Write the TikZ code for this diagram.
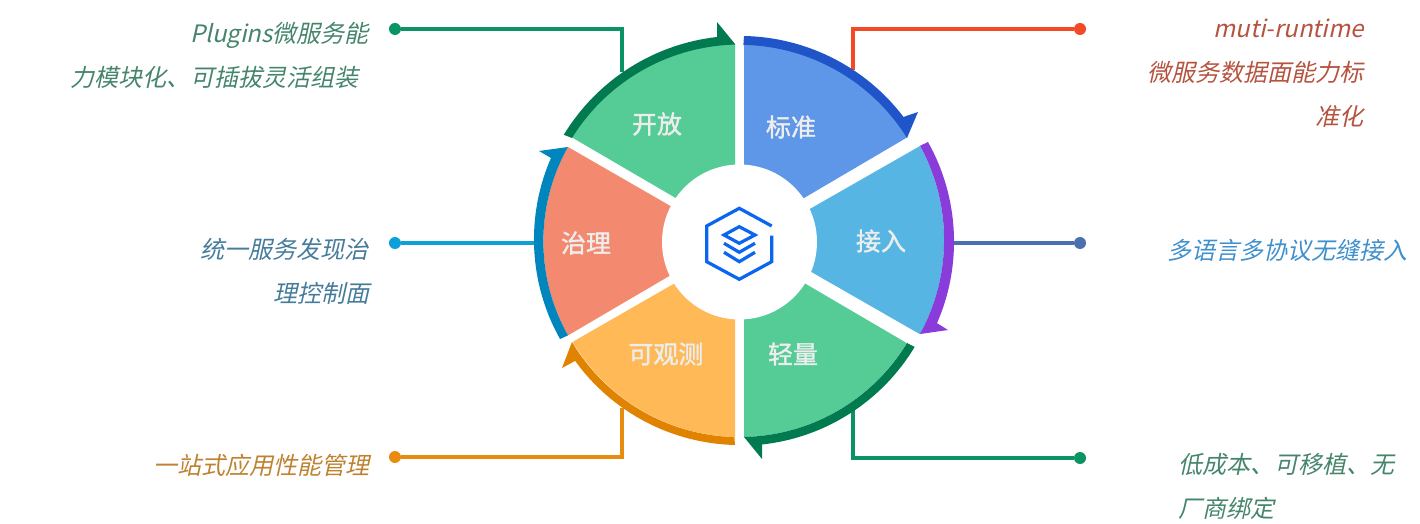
\documentclass[tikz,border=0pt]{standalone}
\usepackage{xcolor}
\usepackage{fontspec}
\usepackage{tikz}
\usetikzlibrary{positioning}
\newfontfamily\notefont[FakeSlant=0.22]{Noto Sans CJK SC}
\newfontfamily\sectorfont[FakeBold=1.5]{Noto Sans CJK SC}
\definecolor{fillgreen}{HTML}{55CB96}
\definecolor{darkgreen}{HTML}{007A4E}
\definecolor{fillblue}{HTML}{5E96E8}
\definecolor{darkblue}{HTML}{2055CA}
\definecolor{fillsky}{HTML}{57B5E3}
\definecolor{darkpurple}{HTML}{8A3CDB}
\definecolor{fillamber}{HTML}{FFB957}
\definecolor{darkamber}{HTML}{E08300}
\definecolor{fillsalmon}{HTML}{F38A70}
\definecolor{darkteal}{HTML}{0086BC}
\definecolor{linegreen}{HTML}{0A9463}
\definecolor{linered}{HTML}{F24A24}
\definecolor{lineslate}{HTML}{4A70B0}
\definecolor{linesky}{HTML}{0EA0D8}
\definecolor{lineamber}{HTML}{E88C10}
\definecolor{icoblue}{HTML}{0A66F0}
\definecolor{txtgreen}{HTML}{45856B}
\definecolor{txtred}{HTML}{B5533F}
\definecolor{txtslate}{HTML}{457C9A}
\definecolor{txtsky}{HTML}{3F90CC}
\definecolor{txtamber}{HTML}{BE8230}
\tikzset{
  dotnode/.style={circle, minimum size=12pt, inner sep=0pt},
  conn/.style={line width=3.4pt},
  note/.style={inner sep=0pt, text height=20pt, text depth=4pt,
    font=\fontsize{24}{24}\notefont},
  sector/.style={inner sep=0pt, text=white!93!black,
    font=\fontsize{25}{25}\sectorfont},
  ico/.style={draw=icoblue, line width=3.2pt, line join=miter}
}
\begin{document}
\begin{tikzpicture}[x=1pt,y=1pt]
  \useasboundingbox (-740,-282) rectangle (680,242);

  % leader lines
  \node[dotnode, fill=linegreen] (dotopen) at (-345,213) {};
  \node[dotnode, fill=linered] (dotstd) at (340,213) {};
  \node[dotnode, fill=lineslate] (dotaccess) at (340,-1) {};
  \node[dotnode, fill=linesky] (dotgov) at (-345,-1) {};
  \node[dotnode, fill=lineamber] (dotobs) at (-345,-215) {};
  \node[dotnode, fill=linegreen] (dotlight) at (340,-216) {};
  \coordinate (endopen) at (-118,170);
  \coordinate (endstd) at (113,172);
  \coordinate (endaccess) at (210,-1);
  \coordinate (endgov) at (-205,-1);
  \coordinate (endobs) at (-118,-166);
  \coordinate (endlight) at (113,-168);
  \draw[conn, linegreen] (dotopen) -| (endopen);
  \draw[conn, linered] (dotstd) -| (endstd);
  \draw[conn, lineslate] (dotaccess) -- (endaccess);
  \draw[conn, linesky] (dotgov) -- (endgov);
  \draw[conn, lineamber] (dotobs) -| (endobs);
  \draw[conn, linegreen] (dotlight) -| (endlight);

  % sectors
  \fill[fillblue] (4,50) -- (4,198) arc[start angle=88.8, end angle=31.9, radius=197.6] -- (30,24) -- cycle;
  \fill[fillsky] (40,16) -- (180,96) arc[start angle=28.7, end angle=-28.7, radius=196] -- (40,-12) -- cycle;
  \fill[fillgreen] (4,-50) -- (4,-195) arc[start angle=-88.8, end angle=-31.2, radius=195] -- (30,-21) -- cycle;
  \fill[fillamber] (-5,-50) -- (-5,-195) arc[start angle=268.5, end angle=210.8, radius=195] -- (-30,-21) -- cycle;
  \fill[fillsalmon] (-40,19) -- (-172,95) arc[start angle=150.7, end angle=209.3, radius=192.5] -- (-40,-16) -- cycle;
  \fill[fillgreen] (-5,50) -- (-5,198) arc[start angle=91.4, end angle=148.2, radius=197.6] -- (-30,24) -- cycle;

  % arrow bands
  \fill[darkblue] (4,206) arc[start angle=88.9, end angle=37.3, radius=205.5] -- (178,130) -- (167,104)
    arc[start angle=31.9, end angle=88.8, radius=197.6] -- cycle;
  \fill[darkpurple] (188,100) arc[start angle=29.3, end angle=-23.6, radius=203.6] -- (208,-88) -- (180,-92)
    arc[start angle=-28.7, end angle=28.7, radius=196] -- cycle;
  \fill[darkgreen] (4,-195) -- (22,-217) -- (22,-202.5) arc[start angle=-83.8, end angle=-31, radius=203.8] -- (167,-101)
    arc[start angle=-31.2, end angle=-88.8, radius=195] -- cycle;
  \fill[darkamber] (-5,-203) arc[start angle=268.6, end angle=215.9, radius=203.5] -- (-178,-126) -- (-168,-100)
    arc[start angle=210.8, end angle=268.5, radius=195] -- cycle;
  \fill[darkteal] (-180,-97) arc[start angle=209.3, end angle=156.4, radius=203.5] -- (-201,91) -- (-172,95)
    arc[start angle=150.7, end angle=209.3, radius=192.5] -- cycle;
  \fill[darkgreen] (-5,198) -- (-23,220) -- (-23,205) arc[start angle=96.4, end angle=148.7, radius=206.2] -- (-168,104)
    arc[start angle=148.2, end angle=91.4, radius=197.6] -- cycle;

  \fill[white] (-0.5,0) circle (77.5);

  % icon
  \draw[ico] (31.7,16) -- (-0.7,33.7) -- (-33.3,16) -- (-33.3,-19.7) -- (-0.7,-37.3) -- (31.7,-19.7) -- (31.7,6.3);
  \draw[ico] (-0.7,15.3) -- (15,7) -- (-0.7,-1.3) -- (-16,7) -- cycle;
  \draw[ico] (-16,-1.3) -- (-0.7,-10.3) -- (15,-1.3);
  \draw[ico] (-16,-10.3) -- (-0.7,-19.7) -- (15,-10.3);

  % sector names
  \node[sector] (secstd) at (51,115) {标准};
  \node[sector] (secaccess) at (141,1) {接入};
  \node[sector] (seclight) at (53,-112) {轻量};
  \node[sector] (secobs) at (-74,-112) {可观测};
  \node[sector] (secgov) at (-154,-1) {治理};
  \node[sector] (secopen) at (-83,118) {开放};

  % notes
  \node[note, anchor=east, text=txtgreen] (noteopena) at (-371,207) {Plugins微服务能};
  \node[note, anchor=east, text=txtgreen] (noteopenb) at (-381,163) {力模块化、可插拔灵活组装};
  \node[note, anchor=east, text=txtslate] (notegova) at (-371,-9) {统一服务发现治};
  \node[note, anchor=east, text=txtslate] (notegovb) at (-370,-52) {理控制面};
  \node[note, anchor=east, text=txtamber] (noteobs) at (-370,-224) {一站式应用性能管理};
  \node[note, anchor=east, text=txtred] (notestda) at (624,212) {muti-runtime};
  \node[note, anchor=east, text=txtred] (notestdb) at (624,168) {微服务数据面能力标};
  \node[note, anchor=east, text=txtred] (notestdc) at (624,124) {准化};
  \node[note, anchor=west, text=txtsky] (noteaccess) at (427,-10) {多语言多协议无缝接入};
  \node[note, anchor=west, text=txtgreen] (notelighta) at (438,-223) {低成本、可移植、无};
  \node[note, anchor=west, text=txtgreen] (notelightb) at (438,-267) {厂商绑定};
\end{tikzpicture}
\end{document}
